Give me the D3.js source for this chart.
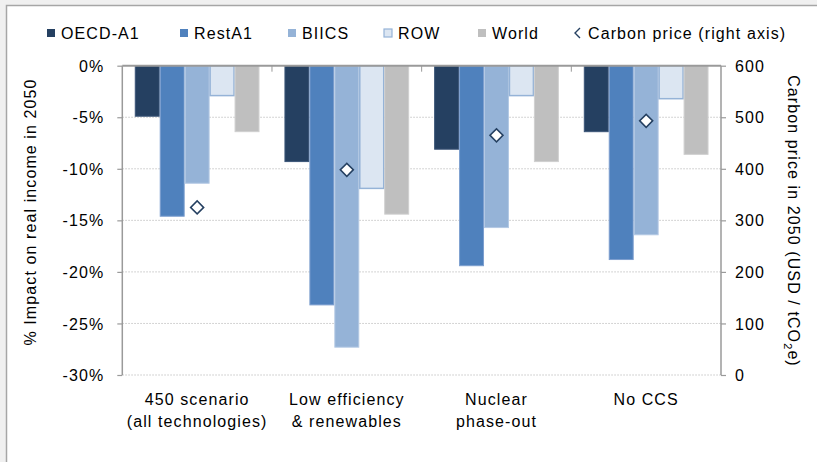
<!DOCTYPE html>
<html><head><meta charset="utf-8">
<script src="https://cdn.jsdelivr.net/npm/d3@7"></script>
<style>
html,body{margin:0;padding:0;background:#f0f0f0;}
svg{display:block;}
text{font-family:"Liberation Sans",Arial,sans-serif;fill:#000;}
</style></head>
<body>
<svg id="chart" width="817" height="462"></svg>
<script>
const categories = [["450 scenario","(all technologies)"],["Low efficiency","& renewables"],["Nuclear","phase-out"],["No CCS"]];
const seriesNames = ["OECD-A1","RestA1","BIICS","ROW","World"];
const oecdA1 = [-4.9, -9.3, -8.1, -6.4];
const restA1 = [-14.6, -23.2, -19.4, -18.8];
const biics  = [-11.4, -27.3, -15.7, -16.4];
const row    = [-2.9, -11.9, -2.9, -3.2];
const world  = [-6.4, -14.4, -9.3, -8.6];
const carbonPrice = [325, 398, 465, 493];
const leftTicks = [0, -5, -10, -15, -20, -25, -30];
const rightTicks = [0, 100, 200, 300, 400, 500, 600];
const legendLabels = ["OECD-A1","RestA1","BIICS","ROW","World","Carbon price (right axis)"];

const seriesValues = [oecdA1, restA1, biics, row, world];
const fills = ["#254061","#4f81bd","#95b3d7","#dce6f2","#bfbfbf"];
const strokes = ["#3b5578","#7d9fcf","#b4c9e4","#95b3d7","#d0d0d0"];

const svg = d3.select("#chart");
const L = 122.3, R = 721, T = 65.7, B = 375;
const catKeys = categories.map((c,i)=>i);
const x0 = d3.scaleBand().domain(catKeys).range([L,R]).paddingInner(0).paddingOuter(0);
const x1 = d3.scaleBand().domain(seriesNames).range([0,x0.bandwidth()]).paddingInner(0).paddingOuter(0.5);
const y = d3.scaleLinear().domain([-30,0]).range([B,T]);
const y2 = d3.scaleLinear().domain([0,600]).range([B,T]);

// frame
svg.append("rect").attr("x",6.5).attr("y",5.5).attr("width",900).attr("height",600)
  .attr("fill","#fff").attr("stroke","#a6a6a6").attr("stroke-width",1.5);

const font = {size:"16px", ls:"1.1px"};

// gridlines
svg.append("g").selectAll("line").data(leftTicks.filter(d=>d!==0)).join("line")
  .attr("x1",L).attr("x2",R).attr("y1",d=>y(d)).attr("y2",d=>y(d))
  .attr("stroke","#c6c6c6").attr("stroke-width",1).attr("stroke-dasharray","1.5,1.5");

// bars
const gCat = svg.append("g").selectAll("g").data(catKeys).join("g")
  .attr("transform",d=>`translate(${x0(d)},0)`);
gCat.selectAll("rect").data(ci=>seriesNames.map((s,si)=>({s,si,v:seriesValues[si][ci]}))).join("rect")
  .attr("x",d=>x1(d.s)+0.5).attr("width",x1.bandwidth()-1)
  .attr("y",y(0)).attr("height",d=>y(d.v)-y(0))
  .attr("fill",d=>fills[d.si]).attr("stroke",d=>strokes[d.si])
  .attr("stroke-width",d=>d.si===3?1.5:1);

// axes lines
const axisColor = "#9a9a9a";
svg.append("line").attr("x1",L).attr("x2",R).attr("y1",y(0)).attr("y2",y(0)).attr("stroke",axisColor).attr("stroke-width",2);
svg.append("line").attr("x1",L).attr("x2",L).attr("y1",T).attr("y2",B).attr("stroke",axisColor).attr("stroke-width",1.5);
svg.append("line").attr("x1",R).attr("x2",R).attr("y1",T).attr("y2",B).attr("stroke",axisColor).attr("stroke-width",1.5);
// category separators
svg.append("g").selectAll("line").data(catKeys.slice(1)).join("line")
  .attr("x1",d=>x0(d)).attr("x2",d=>x0(d)).attr("y1",y(0)).attr("y2",y(0)+6)
  .attr("stroke",axisColor).attr("stroke-width",1);

// left axis
const la = svg.append("g").attr("transform",`translate(${L},0)`)
  .call(d3.axisLeft(y).tickValues(leftTicks).tickSize(5).tickPadding(13).tickFormat(d=>d+"%"));
la.select(".domain").remove();
la.selectAll(".tick line").attr("stroke",axisColor).attr("stroke-width",1.2);
la.selectAll("text").style("font-size",font.size).style("letter-spacing",font.ls).attr("fill","#000").attr("dy","0.35em");

// right axis
const ra = svg.append("g").attr("transform",`translate(${R},0)`)
  .call(d3.axisRight(y2).tickValues(rightTicks).tickSize(5).tickPadding(9));
ra.select(".domain").remove();
ra.selectAll(".tick line").attr("stroke",axisColor).attr("stroke-width",1.2);
ra.selectAll("text").style("font-size",font.size).style("letter-spacing",font.ls).attr("fill","#000").attr("dy","0.35em");

// carbon price diamonds
svg.append("g").selectAll("path").data(carbonPrice).join("path")
  .attr("d",d3.symbol(d3.symbolSquare,84))
  .attr("transform",(d,i)=>`translate(${x0(i)+x0.bandwidth()/2},${y2(d)}) rotate(45)`)
  .attr("fill","#fff").attr("stroke","#254061").attr("stroke-width",1.6);

// category labels
const cl = svg.append("g").selectAll("text").data(categories).join("text")
  .attr("x",(d,i)=>x0(i)+x0.bandwidth()/2).attr("y",405)
  .attr("text-anchor","middle").style("font-size",font.size).style("letter-spacing",font.ls);
cl.selectAll("tspan").data(d=>d).join("tspan")
  .attr("x",function(){return this.parentNode.getAttribute("x");})
  .attr("dy",(d,i)=>i===0?0:22).text(d=>d);

// axis titles
svg.append("text").attr("transform","translate(36,212) rotate(-90)").attr("text-anchor","middle")
  .style("font-size",font.size).style("letter-spacing",font.ls).text("% Impact on real income in 2050");
const rt = svg.append("text").attr("transform","translate(788,221) rotate(90)").attr("text-anchor","middle")
  .style("font-size",font.size).style("letter-spacing",font.ls);
rt.append("tspan").text("Carbon price in 2050 (USD / tCO");
rt.append("tspan").attr("dy",4).style("font-size","11px").text("2");
rt.append("tspan").attr("dy",-4).text("e)");

// legend
const legX = [47,180,288,384,478,575];
const legY = 33;
const lg = svg.append("g").selectAll("g").data(legendLabels).join("g")
  .attr("transform",(d,i)=>`translate(${legX[i]},${legY})`);
lg.filter((d,i)=>i<5).append("rect")
  .attr("x",0).attr("y",-4).attr("width",8).attr("height",8)
  .attr("fill",(d,i)=>fills[i]).attr("stroke",(d,i)=>i===3?strokes[3]:"none").attr("stroke-width",1.2);
lg.filter((d,i)=>i===5).append("path").attr("d","M5,-5 L0,0 L5,5")
  .attr("fill","none").attr("stroke","#254061").attr("stroke-width",1.4);
lg.append("text").attr("x",(d,i)=>i===5?13:14).attr("y",0).attr("dy","0.35em")
  .style("font-size",font.size).style("letter-spacing",font.ls).text(d=>d);
</script>
</body></html>
